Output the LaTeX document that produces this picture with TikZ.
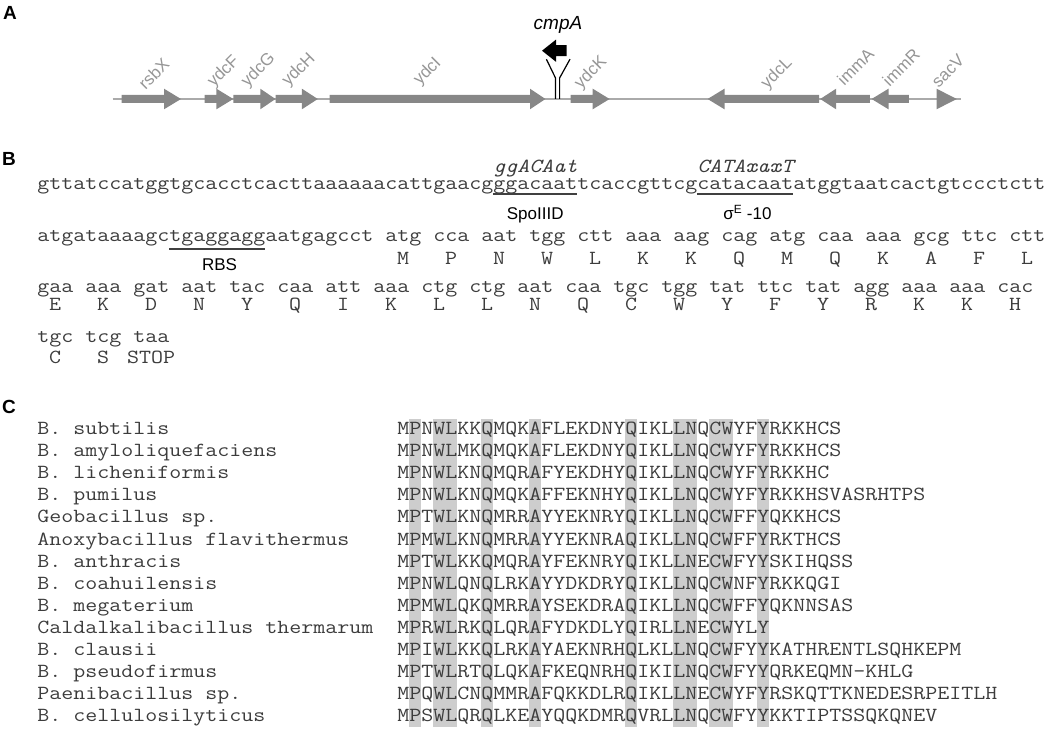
\documentclass[tikz,border=0pt]{standalone}
\usepackage{fontspec}
\usepackage{graphicx}
\setmainfont{Liberation Sans}
\definecolor{genegray}{RGB}{135,135,135}
\definecolor{linegray}{RGB}{170,170,170}
\definecolor{labgray}{RGB}{150,150,150}
\definecolor{seqc}{RGB}{60,60,60}
\definecolor{shadec}{RGB}{205,205,205}
\newlength\mchw
\newlength\mchwi
\newcommand\mtx[1]{\scalebox{\mscale}[1]{\ttfamily\fontsize{20}{24}\selectfont #1}}
\newcommand\mti[1]{\scalebox{\mscalei}[1]{\ttfamily\itshape\fontsize{20}{24}\selectfont #1}}
\newcommand\rgeneA[3]{\fill[genegray] (#1,95) -- (#2,95) -- (#2,88.7) -- (#3,99) -- (#2,109.3) -- (#2,103) -- (#1,103) -- cycle;}
\newcommand\lgeneA[3]{\fill[genegray] (#1,99) -- (#2,88.7) -- (#2,95) -- (#3,95) -- (#3,103) -- (#2,103) -- (#2,109.3) -- cycle;}
\begin{document}
\frenchspacing
\settowidth\mchw{\ttfamily\fontsize{20}{24}\selectfont MMMMMMMMMM}
\settowidth\mchwi{\ttfamily\itshape\fontsize{20}{24}\selectfont MMMMMMMMMM}
\pgfmathsetmacro\mscale{120/\mchw}
\pgfmathsetmacro\mscalei{120/\mchwi}
\begin{tikzpicture}[x=1pt,y=-1pt,
  panel/.style={font=\bfseries\fontsize{19}{22}\selectfont,inner sep=0pt},
  glabel/.style={text=labgray,font=\fontsize{17}{20}\selectfont,rotate=45,inner sep=0pt},
  seq/.style={text=seqc,inner sep=0pt,anchor=base west},
  aa/.style={text=seqc,inner sep=0pt,anchor=base},
  slabel/.style={font=\fontsize{17}{20}\selectfont,inner sep=0pt,anchor=base},
  uline/.style={draw=black!75,line width=1.4pt},
  backbone/.style={draw=linegray,line width=1.3pt},
  term/.style={draw=black,line width=1.2pt}]
\useasboundingbox (0,0) rectangle (1050,730);
% ---------- Panel A ----------
\node[panel] (labA) at (10,13) {A};
\draw[backbone] (112.6,99) -- (961,99);
\rgeneA{121.7}{164}{181}
\rgeneA{204.5}{216.4}{233.3}
\rgeneA{233.3}{260.3}{275.5}
\rgeneA{275.5}{301.9}{317.8}
\rgeneA{329.6}{530}{545.4}
\rgeneA{570.7}{592.7}{609.6}
\lgeneA{707.6}{724.5}{819.2}
\lgeneA{820.2}{836.1}{869.9}
\lgeneA{871.6}{888.5}{908.8}
\fill[genegray] (936.5,88.7) -- (956.8,99) -- (936.5,109.3) -- cycle;
% terminator
\draw[term] (555.5,99) -- (555.5,78) -- (546.4,59.2);
\draw[term] (559.6,99) -- (559.6,78) -- (570,59.2);
% cmpA arrow
\fill[black] (542,50.7) -- (556,39.6) -- (556,45.2) -- (566.5,45.2) -- (566.5,56.2) -- (556,56.2) -- (556,61.8) -- cycle;
\node[font=\itshape\fontsize{19}{22}\selectfont,inner sep=0pt] (cmpA) at (558,25) {cmpA};
\node[glabel] (rsbX) at (153.8,73.4) {rsbX};
\node[glabel] (ydcF) at (223.8,71.7) {ydcF};
\node[glabel] (ydcG) at (258.6,70) {ydcG};
\node[glabel] (ydcH) at (299,70) {ydcH};
\node[glabel] (ydcI) at (427.7,71.7) {ydcI};
\node[glabel] (ydcK) at (591,72.7) {ydcK};
\node[glabel] (ydcL) at (777,73.4) {ydcL};
\node[glabel] (immA) at (855.4,66.6) {immA};
\node[glabel] (immR) at (901,67.6) {immR};
\node[glabel] (sacV) at (948,71) {sacV};
% ---------- Panel B ----------
\node[panel] (labB) at (9,159) {B};
\node[seq] (l1) at (37.2,190) {\mtx{gttatccatggtgcacctcacttaaaaaacattgaacgggacaattcaccgttcgcatacaatatggtaatcactgtccctctt}};
\node[seq] (m1) at (493.2,172.5) {\mti{ggACAat}};
\node[seq] (m2) at (697.2,172.5) {\mti{CATAxaxT}};
\draw[uline] (493.2,194) -- (577.2,194);
\draw[uline] (697.2,194) -- (793.2,194);
\node[slabel] (spo) at (535.2,220) {SpoIIID};
\node[slabel] (sig) at (747.4,220) {σ\textsuperscript{E} -10};
\node[seq] (l2) at (37.2,242) {\mtx{atgataaaagctgaggaggaatgagcct atg cca aat tgg ctt aaa aag cag atg caa aaa gcg ttc ctt}};
\draw[uline] (169.2,249) -- (265.2,249);
\node[slabel] (rbs) at (219.6,271) {RBS};
\foreach \a [count=\i from 0] in {M,P,N,W,L,K,K,Q,M,Q,K,A,F,L}
  \node[aa] (aa2-\i) at ({37.2+(30.5+4*\i)*12},265) {\mtx{\a}};
\node[seq] (l3) at (37.2,292.5) {\mtx{gaa aaa gat aat tac caa att aaa ctg ctg aat caa tgc tgg tat ttc tat agg aaa aaa cac}};
\foreach \a [count=\i from 0] in {E,K,D,N,Y,Q,I,K,L,L,N,Q,C,W,Y,F,Y,R,K,K,H}
  \node[aa] (aa3-\i) at ({37.2+(1.5+4*\i)*12},310) {\mtx{\a}};
\node[seq] (l4) at (37.2,342) {\mtx{tgc tcg taa}};
\node[aa] (aa4-0) at (55.2,363) {\mtx{C}};
\node[aa] (aa4-1) at (103.2,363) {\mtx{S}};
\node[aa] (aa4-2) at (151.2,363) {\mtx{STOP}};
% ---------- Panel C ----------
\node[panel] (labC) at (9,407) {C};
\foreach \p in {2,4,5,8,12,20,24,25,27,28,31}
  \fill[shadec] ({397.2+(\p-1)*12},419) rectangle ({397.2+\p*12},727);
\foreach \nm/\sq [count=\k from 0] in {
  B. subtilis/MPNWLKKQMQKAFLEKDNYQIKLLNQCWYFYRKKHCS,
  B. amyloliquefaciens/MPNWLMKQMQKAFLEKDNYQIKLLNQCWYFYRKKHCS,
  B. licheniformis/MPNWLKNQMQRAFYEKDHYQIKLLNQCWYFYRKKHC,
  B. pumilus/MPNWLKNQMQKAFFEKNHYQIKLLNQCWYFYRKKHSVASRHTPS,
  Geobacillus sp./MPTWLKNQMRRAYYEKNRYQIKLLNQCWFFYQKKHCS,
  Anoxybacillus flavithermus/MPMWLKNQMRRAYYEKNRAQIKLLNQCWFFYRKTHCS,
  B. anthracis/MPTWLKKQMQRAYFEKNRYQIKLLNECWFYYSKIHQSS,
  B. coahuilensis/MPNWLQNQLRKAYYDKDRYQIKLLNQCWNFYRKKQGI,
  B. megaterium/MPMWLQKQMRRAYSEKDRAQIKLLNQCWFFYQKNNSAS,
  Caldalkalibacillus thermarum/MPRWLRKQLQRAFYDKDLYQIRLLNECWYLY,
  B. clausii/MPIWLKKQLRKAYAEKNRHQLKLLNQCWFYYKATHRENTLSQHKEPM,
  B. pseudofirmus/MPTWLRTQLQKAFKEQNRHQIKILNQCWFYYQRKEQMN-KHLG,
  Paenibacillus sp./MPQWLCNQMMRAFQKKDLRQIKLLNECWYFYRSKQTTKNEDESRPEITLH,
  B. cellulosilyticus/MPSWLQRQLKEAYQQKDMRQVRLLNQCWFYYKKTIPTSSQKQNEV}
{
  \node[seq] (nm-\k) at (37.2,{434.5+\k*22.1}) {\mtx{\nm}};
  \node[seq] (sq-\k) at (397.2,{434.5+\k*22.1}) {\mtx{\sq}};
}
\end{tikzpicture}
\end{document}
